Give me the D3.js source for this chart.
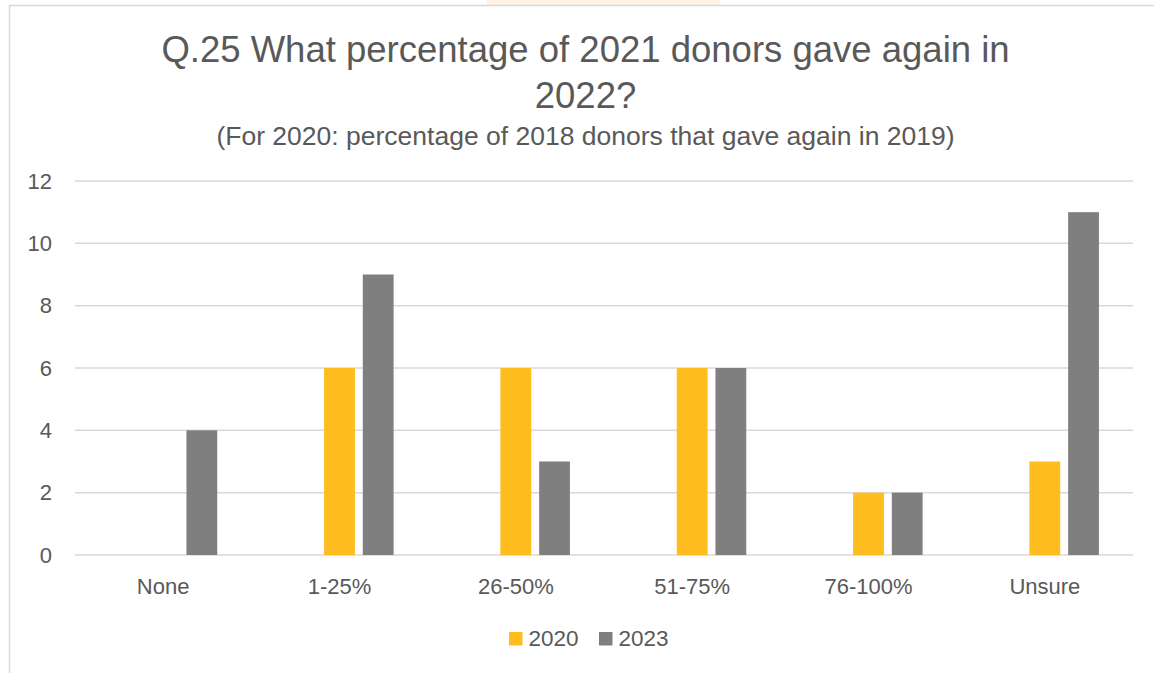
<!DOCTYPE html>
<html>
<head>
<meta charset="utf-8">
<script src="https://cdn.jsdelivr.net/npm/d3@7"></script>
<style>
  html, body { margin: 0; padding: 0; background: #fff; }
  svg { display: block; }
  text { font-family: "Liberation Sans", Arial, sans-serif; fill: #595959; }
</style>
</head>
<body>
<svg id="chart" width="1154" height="673"></svg>
<script>
// Response categories and counts per survey year
const categories = ["None", "1-25%", "26-50%", "51-75%", "76-100%", "Unsure"];
const values2020 = [0, 6, 6, 6, 2, 3];
const values2023 = [4, 9, 3, 6, 2, 11];
const seriesNames = ["2020", "2023"];
const seriesColors = ["#FFBC1F", "#7F7F7F"];
const yTicks = [0, 2, 4, 6, 8, 10, 12];
const titleLines = ["Q.25 What percentage of 2021 donors gave again in", "2022?"];
const subtitle = "(For 2020: percentage of 2018 donors that gave again in 2019)";

const svg = d3.select("#chart");
const W = 1154, H = 673;

// chart frame
svg.append("rect").attr("x", 487).attr("y", 0).attr("width", 233).attr("height", 5)
  .attr("fill", "#FFF3E4");
svg.append("rect").attr("x", 9.5).attr("y", 5.5).attr("width", W + 10).attr("height", H + 10)
  .attr("fill", "#fff").attr("stroke", "#D9D9D9").attr("stroke-width", 1.5);

const plot = { left: 75, right: 1133, top: 181, bottom: 555 };

const x = d3.scaleBand().domain(categories).range([plot.left, plot.right]).paddingInner(0).paddingOuter(0);
// three slots per category, centred on the band: an empty leading slot, then the two years
const slots = ["lead", ...seriesNames];
const bw = x.bandwidth();
const groupWidth = 108.2;
const xSub = d3.scaleBand().domain(slots)
  .range([bw / 2 - groupWidth / 2, bw / 2 + groupWidth / 2])
  .paddingInner(0.204).paddingOuter(0);

const y = d3.scaleLinear().domain([0, 12]).range([plot.bottom, plot.top]);

// gridlines
svg.append("g").selectAll("line").data(yTicks).join("line")
  .attr("x1", plot.left).attr("x2", plot.right)
  .attr("y1", d => y(d)).attr("y2", d => y(d))
  .attr("stroke", "#D9D9D9").attr("stroke-width", 1.5);

// y axis labels
const yAxis = d3.axisLeft(y).tickValues(yTicks).tickSize(0).tickPadding(0);
const gy = svg.append("g").attr("transform", `translate(52,0)`).call(yAxis);
gy.select(".domain").remove();
gy.selectAll("text").style("font-size", "22px").attr("fill", "#595959")
  .attr("font-family", "Liberation Sans, Arial, sans-serif");

// x axis labels
const xAxis = d3.axisBottom(x).tickSize(0).tickPadding(0);
const gx = svg.append("g").attr("transform", `translate(0,575)`).call(xAxis);
gx.select(".domain").remove();
gx.selectAll("text").style("font-size", "22px").attr("fill", "#595959").attr("dy", "0.86em")
  .attr("font-family", "Liberation Sans, Arial, sans-serif");

// bars
const series = [values2020, values2023];
series.forEach((vals, si) => {
  svg.append("g").selectAll("rect").data(categories.map((c, i) => ({ c, v: vals[i] })))
    .join("rect")
    .attr("x", d => x(d.c) + xSub(seriesNames[si]))
    .attr("width", xSub.bandwidth())
    .attr("y", d => y(d.v))
    .attr("height", d => y(0) - y(d.v))
    .attr("fill", seriesColors[si]);
});

// title
const cx = 585.5;
svg.append("text").attr("x", cx).attr("y", 62).attr("text-anchor", "middle")
  .style("font-size", "36.5px").text(titleLines[0]);
svg.append("text").attr("x", cx).attr("y", 108).attr("text-anchor", "middle")
  .style("font-size", "36.5px").text(titleLines[1]);
svg.append("text").attr("x", cx).attr("y", 145).attr("text-anchor", "middle")
  .style("font-size", "26.5px").text(subtitle);

// legend
const legendX = [509, 599];
seriesNames.forEach((name, i) => {
  svg.append("rect").attr("x", legendX[i]).attr("y", 632).attr("width", 13.5).attr("height", 13.5)
    .attr("fill", seriesColors[i]);
  svg.append("text").attr("x", legendX[i] + 19.5).attr("y", 646)
    .style("font-size", "22.5px").text(name);
});
</script>
</body>
</html>
